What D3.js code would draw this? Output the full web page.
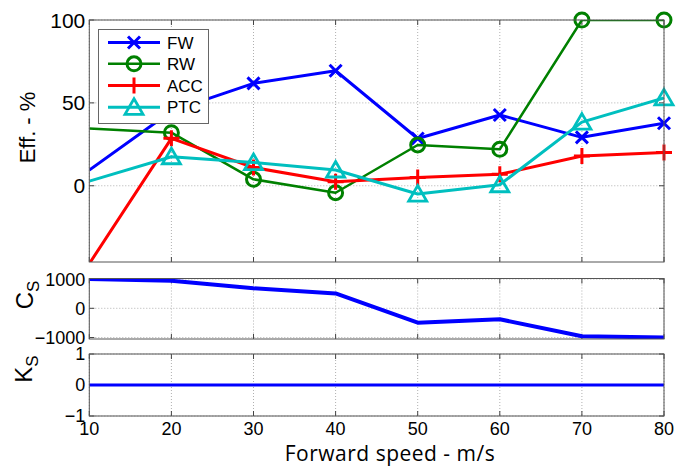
<!DOCTYPE html>
<html><head><meta charset="utf-8">
<script src="https://cdn.jsdelivr.net/npm/d3@7"></script>
<style>
body{margin:0;background:#fff;}
svg{display:block;}
.tick-label{font-family:"Liberation Sans",Arial,sans-serif;font-size:18px;fill:#000;}
</style></head>
<body>
<svg id="chart" width="690" height="466"></svg>
<script>
// ---- data ----
const speeds = [10, 20, 30, 40, 50, 60, 70, 80];
const fw  = [9.5, 45, 61.8, 69.4, 28.5, 42.7, 29.2, 37.7];
const rw  = [34.6, 32, 3.9, -4.2, 24.6, 22, 100, 100];
const acc = [-47, 28.6, 11, 2.4, 5, 6.9, 17.9, 20];
const ptc = [2.8, 17.5, 14, 9.5, -5, 0.6, 38.4, 53];
const cs  = [1000, 945, 685, 510, -490, -375, -955, -1000];
const ks  = [0, 0, 0, 0, 0, 0, 0, 0];
const xTicks = [10, 20, 30, 40, 50, 60, 70, 80];
const effTicks = [0, 50, 100];
const csTicks = [-1000, 0, 1000];
const ksTicks = [-1, 0, 1];
const seriesNames = ["FW", "RW", "ACC", "PTC"];

const svg = d3.select("#chart");
const x = d3.scaleLinear().domain([10, 80]).range([89.3, 664]);

const panels = [
  {y: d3.scaleLinear().domain([-46, 100]).range([262, 20]), ticks: effTicks, id: "p0", fs: 21},
  {y: d3.scaleLinear().domain([-1050, 1020]).range([339, 278.5]), ticks: csTicks, id: "p1", fs: 18},
  {y: d3.scaleLinear().domain([-1, 1]).range([416, 354]), ticks: ksTicks, id: "p2", fs: 18}
];

const defs = svg.append("defs");
panels.forEach(p => {
  const [y1, y0] = p.y.range();
  defs.append("clipPath").attr("id", "clip-" + p.id)
    .append("rect").attr("x", x.range()[0]).attr("y", y0)
    .attr("width", x.range()[1] - x.range()[0]).attr("height", y1 - y0);
});

function drawFrame(p) {
  const [y1, y0] = p.y.range();
  const [x0, x1] = x.range();
  const g = svg.append("g");
  g.selectAll(".vg").data(xTicks).join("line")
    .attr("x1", d => x(d)).attr("x2", d => x(d)).attr("y1", y0).attr("y2", y1)
    .attr("stroke", "#b0b0b0").attr("stroke-width", 1).attr("stroke-dasharray", "1,2");
  g.selectAll(".hg").data(p.ticks).join("line")
    .attr("x1", x0).attr("x2", x1).attr("y1", d => p.y(d)).attr("y2", d => p.y(d))
    .attr("stroke", "#b0b0b0").attr("stroke-width", 1).attr("stroke-dasharray", "1,2");
  xTicks.forEach(t => {
    g.append("line").attr("x1", x(t)).attr("x2", x(t)).attr("y1", y1).attr("y2", y1 - 5).attr("stroke", "#444");
    g.append("line").attr("x1", x(t)).attr("x2", x(t)).attr("y1", y0).attr("y2", y0 + 5).attr("stroke", "#444");
  });
  p.ticks.forEach(t => {
    g.append("line").attr("x1", x0).attr("x2", x0 + 5).attr("y1", p.y(t)).attr("y2", p.y(t)).attr("stroke", "#444");
    g.append("line").attr("x1", x1).attr("x2", x1 - 5).attr("y1", p.y(t)).attr("y2", p.y(t)).attr("stroke", "#444");
  });
  g.selectAll(".yl").data(p.ticks).join("text").attr("class", "tick-label")
    .style("font-size", p.fs + "px")
    .attr("x", x0 - 4).attr("y", d => p.y(d)).attr("dy", "0.36em")
    .attr("text-anchor", "end").text(d => d3.format("d")(d));
  return g;
}
function drawBox(p) {
  const [y1, y0] = p.y.range();
  const [x0, x1] = x.range();
  svg.append("rect").attr("x", x0).attr("y", y0).attr("width", x1 - x0).attr("height", y1 - y0)
    .attr("fill", "none").attr("stroke", "#555").attr("stroke-width", 1);
}

// ---- top panel ----
const P0 = panels[0];
drawFrame(P0);
const styles = [
  {vals: fw,  color: "#0000ff", lw: 3,   marker: "x"},
  {vals: rw,  color: "#008000", lw: 2.5, marker: "o"},
  {vals: acc, color: "#ff0000", lw: 3,   marker: "+"},
  {vals: ptc, color: "#00bfbf", lw: 3,   marker: "^"}
];
function markerPath(type) {
  if (type === "x") return "M-6,-6L6,6M-6,6L6,-6";
  if (type === "+") return "M-8,0L8,0M0,-8L0,8";
  if (type === "^") return "M0,-8.5L9,7L-9,7Z";
  return null;
}
function drawMarker(g, type, cx, cy, color) {
  if (type === "o") {
    g.append("circle").attr("cx", cx).attr("cy", cy).attr("r", 7)
      .attr("fill", "none").attr("stroke", color).attr("stroke-width", 3);
  } else {
    g.append("path").attr("d", markerPath(type)).attr("transform", `translate(${cx},${cy})`)
      .attr("fill", "none").attr("stroke", color).attr("stroke-width", type === "^" ? 2.8 : 3)
      .attr("stroke-linejoin", "miter");
  }
}
const line0 = d3.line().x((d, i) => x(speeds[i])).y(d => P0.y(d));
styles.forEach(s => {
  svg.append("path").datum(s.vals).attr("d", line0)
    .attr("clip-path", "url(#clip-p0)")
    .attr("fill", "none").attr("stroke", s.color).attr("stroke-width", s.lw)
    .attr("stroke-linejoin", "round");
  const mg = svg.append("g");
  s.vals.forEach((v, i) => {
    if (speeds[i] <= 10) return;
    if (v < P0.y.domain()[0] || v > P0.y.domain()[1]) return;
    drawMarker(mg, s.marker, x(speeds[i]), P0.y(v), s.color);
  });
});
drawBox(P0);

// legend
const lg = svg.append("g");
lg.append("rect").attr("x", 98.5).attr("y", 29.5).attr("width", 110).attr("height", 94)
  .attr("fill", "#fff").attr("stroke", "#666").attr("stroke-width", 1);
const legendY = [42.5, 63.8, 85.5, 107.3];
styles.forEach((s, i) => {
  lg.append("line").attr("x1", 108).attr("x2", 160).attr("y1", legendY[i]).attr("y2", legendY[i])
    .attr("stroke", s.color).attr("stroke-width", s.lw);
  drawMarker(lg, s.marker, 134, legendY[i], s.color);
  lg.append("text").attr("x", 167).attr("y", legendY[i]).attr("dy", "0.36em")
    .attr("font-family", "Liberation Sans, Arial, sans-serif").attr("font-size", 17)
    .text(seriesNames[i]);
});

// ---- Cs panel ----
const P1 = panels[1];
drawFrame(P1);
svg.append("path").datum(cs)
  .attr("d", d3.line().x((d, i) => x(speeds[i])).y(d => P1.y(d)))
  .attr("clip-path", "url(#clip-p1)")
  .attr("fill", "none").attr("stroke", "#0000ff").attr("stroke-width", 4).attr("stroke-linejoin", "round");
drawBox(P1);

// ---- Ks panel ----
const P2 = panels[2];
drawFrame(P2);
svg.append("path").datum(ks)
  .attr("d", d3.line().x((d, i) => x(speeds[i])).y(d => P2.y(d)))
  .attr("fill", "none").attr("stroke", "#0000ff").attr("stroke-width", 3);
drawBox(P2);

// x tick labels
svg.selectAll(".xl").data(xTicks).join("text").attr("class", "tick-label")
  .attr("x", d => x(d)).attr("y", 434.5).attr("text-anchor", "middle").text(d => d);

// axis titles
svg.append("text").attr("transform", "translate(35,127.5) rotate(-90)")
  .attr("text-anchor", "middle").attr("font-family", "Liberation Sans, Arial, sans-serif")
  .attr("font-size", 22).text("Eff. - %");

const csLab = svg.append("text").attr("transform", "translate(33,295) rotate(-90)")
  .attr("text-anchor", "middle").attr("font-family", "Liberation Sans, Arial, sans-serif")
  .attr("font-size", 24);
csLab.append("tspan").text("C");
csLab.append("tspan").attr("font-size", 17).attr("dy", 6).text("S");

const ksLab = svg.append("text").attr("transform", "translate(32,369) rotate(-90)")
  .attr("text-anchor", "middle").attr("font-family", "Liberation Sans, Arial, sans-serif")
  .attr("font-size", 24);
ksLab.append("tspan").text("K");
ksLab.append("tspan").attr("font-size", 17).attr("dy", 6).text("S");

svg.append("text").attr("x", 390).attr("y", 461).attr("text-anchor", "middle")
  .attr("font-family", "Open Sans, Noto Sans, sans-serif").attr("font-size", 21)
  .attr("letter-spacing", "0.5px")
  .text("Forward speed - m/s");
</script>
</body></html>
